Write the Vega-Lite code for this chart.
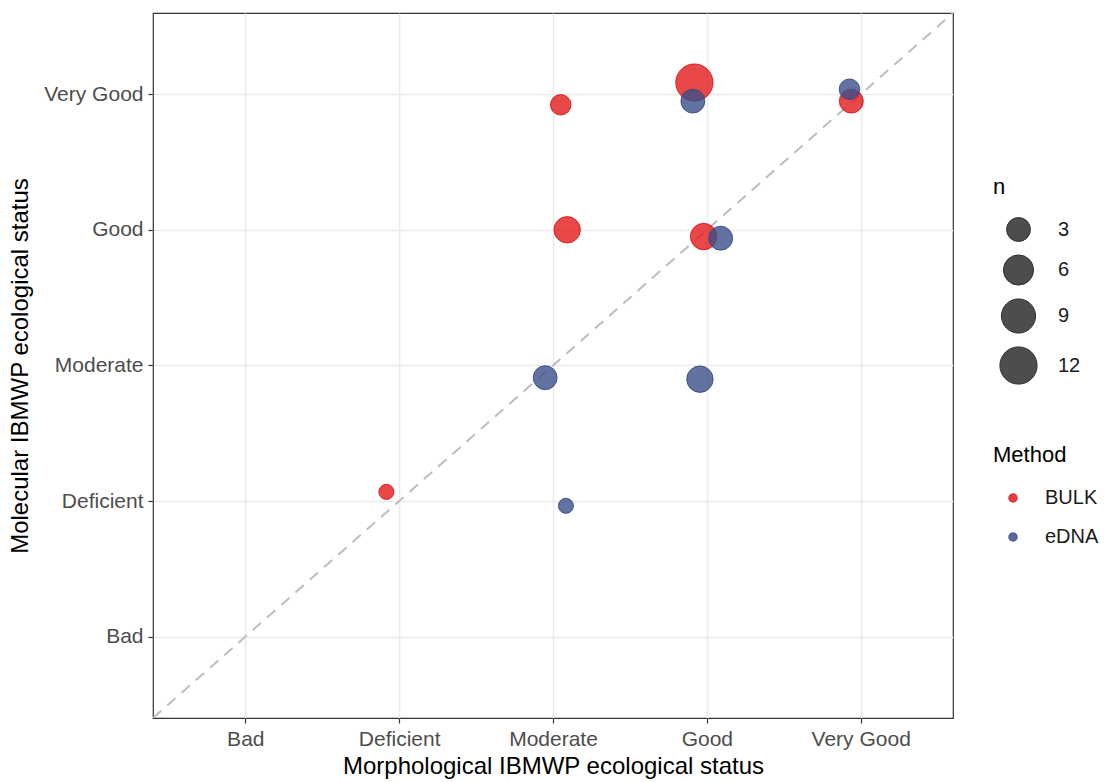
{
  "$schema": "https://vega.github.io/schema/vega-lite/v6.json",
  "width": 800,
  "height": 705,
  "autosize": {"type": "none"},
  "padding": {"left": 153, "top": 13, "right": 157, "bottom": 64},
  "background": "white",
  "config": {
    "font": "Liberation Sans",
    "view": {"stroke": "#333333", "strokeWidth": 1.2},
    "axis": {
      "domain": false,
      "grid": true,
      "gridColor": "#ebebeb",
      "gridWidth": 1.5,
      "tickColor": "#333333",
      "tickSize": 5,
      "tickWidth": 1.2,
      "labelColor": "#4d4d4d",
      "labelFont": "Liberation Sans",
      "labelFontSize": 21,
      "labelPadding": 5,
      "titleFont": "Liberation Sans",
      "titleFontSize": 24,
      "titleFontWeight": "normal",
      "titleColor": "#000000"
    },
    "legend": {
      "padding": 0,
      "titleFont": "Liberation Sans",
      "titleFontSize": 22,
      "titleFontWeight": "normal",
      "titleColor": "#000000",
      "labelFont": "Liberation Sans",
      "labelFontSize": 20,
      "labelColor": "#1a1a1a"
    }
  },
  "layer": [
    {
      "data": {"values": [
        {"morph": 0.4, "mol": 0.4},
        {"morph": 5.6, "mol": 5.6}
      ]},
      "mark": {"type": "line", "color": "#bdbdbd", "strokeWidth": 2, "strokeDash": [11, 8], "clip": true},
      "encoding": {
        "x": {"field": "morph", "type": "quantitative"},
        "y": {"field": "mol", "type": "quantitative"}
      }
    },
    {
      "data": {"values": [
        {"method": "BULK", "morph": 1.917, "mol": 2.068, "n": 1},
        {"method": "BULK", "morph": 3.050, "mol": 4.923, "n": 2},
        {"method": "BULK", "morph": 3.092, "mol": 4.001, "n": 4},
        {"method": "BULK", "morph": 3.919, "mol": 5.087, "n": 12},
        {"method": "BULK", "morph": 3.979, "mol": 3.951, "n": 4},
        {"method": "BULK", "morph": 4.939, "mol": 4.950, "n": 3},
        {"method": "eDNA", "morph": 3.084, "mol": 1.965, "n": 1},
        {"method": "eDNA", "morph": 2.949, "mol": 2.910, "n": 3},
        {"method": "eDNA", "morph": 3.955, "mol": 2.899, "n": 4},
        {"method": "eDNA", "morph": 3.909, "mol": 4.950, "n": 3},
        {"method": "eDNA", "morph": 4.090, "mol": 3.939, "n": 3},
        {"method": "eDNA", "morph": 4.927, "mol": 5.038, "n": 2}
      ]},
      "mark": {"type": "circle", "fillOpacity": 0.8, "strokeOpacity": 0.85, "strokeWidth": 1},
      "encoding": {
        "x": {
          "field": "morph",
          "type": "quantitative",
          "scale": {"domain": [0.4, 5.6], "nice": false, "zero": false},
          "axis": {
            "title": "Morphological IBMWP ecological status",
            "values": [1, 2, 3, 4, 5],
            "labelExpr": "['', 'Bad', 'Deficient', 'Moderate', 'Good', 'Very Good'][datum.value]",
            "titlePadding": 5
          }
        },
        "y": {
          "field": "mol",
          "type": "quantitative",
          "scale": {"domain": [0.4, 5.6], "nice": false, "zero": false},
          "axis": {
            "title": "Molecular IBMWP ecological status",
            "values": [1, 2, 3, 4, 5],
            "labelExpr": "['', 'Bad', 'Deficient', 'Moderate', 'Good', 'Very Good'][datum.value]",
            "titlePadding": 11
          }
        },
        "color": {
          "field": "method",
          "type": "nominal",
          "scale": {"domain": ["BULK", "eDNA"], "range": ["#E41A1C", "#3B4F8A"]},
          "legend": {
            "title": "Method",
            "orient": "none",
            "legendX": 840,
            "legendY": 432,
            "symbolType": "circle",
            "symbolSize": 64,
            "symbolOffset": 10,
            "labelOffset": 22,
            "titlePadding": 21,
            "rowPadding": 19,
            "symbolOpacity": 0.85
          }
        },
        "stroke": {
          "field": "method",
          "type": "nominal",
          "scale": {"domain": ["BULK", "eDNA"], "range": ["#d01216", "#34467c"]},
          "legend": null
        },
        "size": {
          "field": "n",
          "type": "quantitative",
          "scale": {"type": "sqrt", "domain": [1, 12], "range": [227, 1385], "zero": false},
          "legend": {
            "title": "n",
            "orient": "none",
            "legendX": 840,
            "legendY": 164,
            "values": [3, 6, 9, 12],
            "symbolType": "circle",
            "symbolFillColor": "#3a3a3a",
            "symbolStrokeColor": "#1a1a1a",
            "symbolStrokeWidth": 1,
            "symbolOpacity": 0.9,
            "symbolOffset": 6,
            "labelOffset": 20,
            "titlePadding": 18,
            "rowPadding": 8
          }
        }
      }
    }
  ]
}
